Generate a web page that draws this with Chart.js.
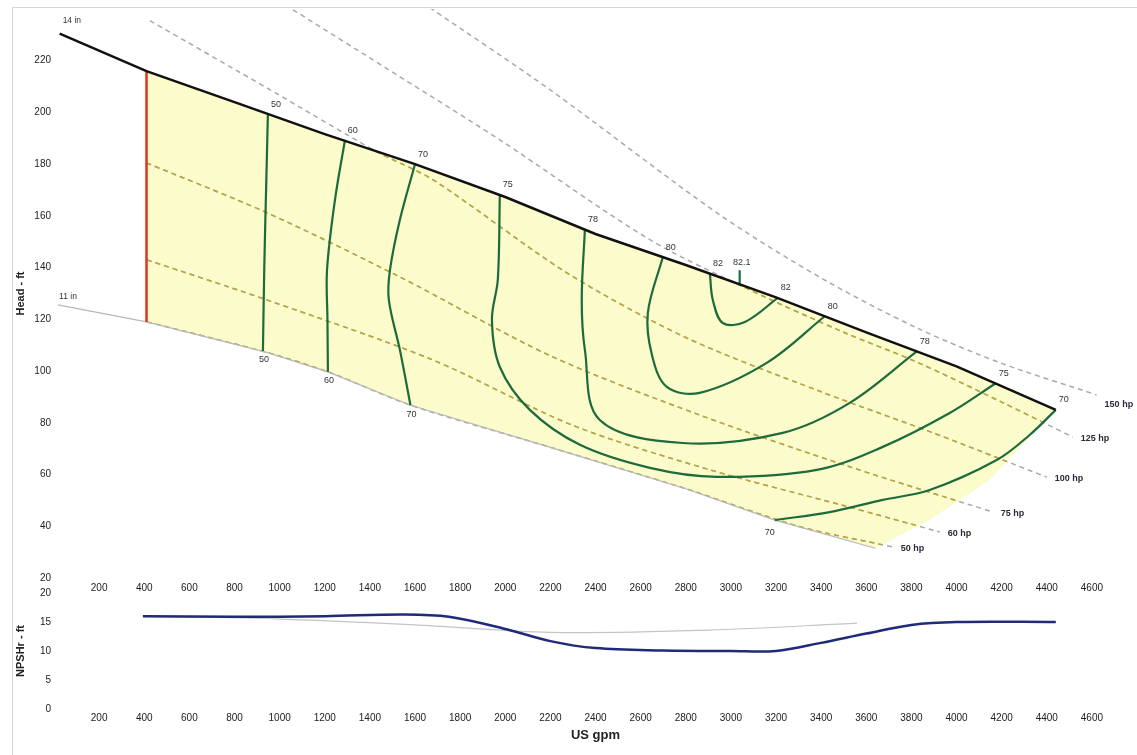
<!DOCTYPE html>
<html>
<head>
<meta charset="utf-8">
<script src="https://cdn.jsdelivr.net/npm/chart.js@4.4.1/dist/chart.umd.min.js"></script>
<style>
    html, body { margin: 0; padding: 0; background: #fff; }
    #wrap { position: relative; width: 1137px; height: 755px; overflow: hidden; }
    #frame { position: absolute; left: 12px; top: 7px; right: 0; bottom: 0; border-left: 1px solid #d6d6d6; border-top: 1px solid #d6d6d6; }
    #headChart { position: absolute; left: 0; top: 0; }
    #npshChart { position: absolute; left: 0; top: 583px; }
</style>
</head>
<body>
<div id="wrap">
    <div id="frame"></div>
    <canvas id="headChart" width="1137" height="600" style="width:1137px;height:600px"></canvas>
    <canvas id="npshChart" width="1137" height="172" style="width:1137px;height:172px"></canvas>
</div>
<script>
const FONT = "'Liberation Sans', Arial, sans-serif";

// axes
const xTicks = [200, 400, 600, 800, 1000, 1200, 1400, 1600, 1800, 2000, 2200, 2400,
    2600, 2800, 3000, 3200, 3400, 3600, 3800, 4000, 4200, 4400, 4600];
const headTicks = [20, 40, 60, 80, 100, 120, 140, 160, 180, 200, 220];
const npshTicks = [0, 5, 10, 15, 20];

// impeller curves (US gpm / ft)
const q14 = [25, 410, 800, 1200, 1600, 2000, 2400, 2800, 3200, 3600, 4000, 4440];
const h14 = [230.5, 216, 204, 191.6, 180, 167.3, 153, 141, 128.5, 115, 101.8, 85];
const q11 = [18, 410, 935, 1214, 1577, 2200, 2800, 3195, 3640];
const h11 = [125.6, 119, 107.4, 99.7, 86.9, 70.5, 54.5, 42.4, 31.5];
const qEdge = [4440, 4324, 4147, 3881, 3640];
const hEdge = [85, 74.5, 57.9, 42.4, 31.5];
const minFlow = 410;

// efficiency contours (%)
const eff50Q = [948, 940, 932, 926];
const eff50H = [199.3, 170, 140, 107.8];
const eff60Q = [1289, 1245, 1210, 1212, 1214];
const eff60H = [189, 166, 139, 120, 99.7];
const eff70LQ = [1600, 1533, 1489, 1484, 1533, 1580];
const eff70LH = [180, 158.5, 139, 127.5, 108.2, 86.8];
const eff75Q = [1976, 1967, 1941, 1976, 2109, 2331, 2641, 2938, 3381, 3673, 3970, 4174];
const eff75H = [168.1, 135.3, 119.8, 101.6, 85, 71.5, 62.6, 59.1, 61.8, 70.7, 83.8, 95.3];
const eff78Q = [2353, 2339, 2353, 2419, 2787, 3230, 3527, 3824];
const eff78H = [154.7, 127.5, 108.2, 81.1, 72.2, 76.1, 87.7, 107.6];
const eff80Q = [2698, 2632, 2650, 2716, 2862, 3159, 3416];
const eff80H = [144, 122.5, 106.3, 93.9, 91.6, 103.2, 121.2];
const eff82Q = [2907, 2920, 2964, 3062, 3208];
const eff82H = [137.7, 127.5, 118.6, 119, 128.3];
const eff821Q = [3039, 3039];
const eff821H = [139, 133.6];
const eff70RQ = [3195, 3438, 3673, 3881, 4178, 4324, 4440];
const eff70RH = [42.4, 45.5, 50.2, 54, 65.6, 75.3, 85];

// power lines (hp)
const hpText = ['150 hp', '125 hp', '100 hp', '75 hp', '60 hp', '50 hp'];
const hp150Q = [1666, 2198, 2938, 3400, 3824, 4200, 4621];
const hp150H = [240.5, 208.8, 161.2, 136, 116.7, 103, 90.8];
const hp125Q = [1059, 1533, 1976, 2641, 3084, 3500, 3824, 4200, 4515];
const hp125H = [239.7, 213.8, 189.4, 150.8, 131.4, 115, 103.5, 88, 74.5];
const hp100Q = [425, 957, 1431, 1679, 2273, 2800, 3400, 3900, 4400];
const hp100H = [235.5, 208.8, 184.8, 174, 138, 113, 92, 76, 59];
const hp75Q = [410, 944, 1533, 2198, 2862, 3527, 4161];
const hp75H = [180.5, 161.2, 136.4, 106, 83, 63, 45.5];
const hp60Q = [412, 944, 1679, 2300, 2900, 3500, 3926];
const hp60H = [143, 127.5, 104.3, 79, 62, 48, 37.8];
const hp50Q = [412, 935, 1214, 1577, 2200, 2800, 3300, 3717];
const hp50H = [119, 107.4, 99.7, 86.9, 70.5, 54.5, 40, 32];

// NPSHr (ft)
const npshQ = [394, 800, 1200, 1550, 1750, 2000, 2200, 2400, 2700, 3000, 3200, 3400, 3600, 3800, 4000, 4440];
const npshH = [16.0, 15.9, 16.0, 16.3, 15.9, 13.8, 11.7, 10.5, 10.1, 10.0, 10.0, 11.4, 13.0, 14.5, 15.0, 15.0];
const npshAltQ = [394, 1000, 1600, 2200, 2900, 3560];
const npshAltH = [16.0, 15.5, 14.5, 13.2, 13.6, 14.8];

function pts(q, h) {
    return q.map((x, i) => ({ x: x, y: h[i] }));
}
const first = (q, h, t, side) => [q[0], h[0], t, side];
const last = (q, h, t, side) => [q[q.length - 1], h[h.length - 1], t, side];

// operating region: 14 in curve, end of curve, 11 in curve back to min flow
const regionPts = [
    ...pts(q14, h14).filter(p => p.x >= minFlow),
    ...pts(qEdge, hEdge).slice(1),
    ...pts(q11, h11).filter(p => p.x >= minFlow).reverse().slice(1)
];

const contours = [
    [eff50Q, eff50H], [eff60Q, eff60H], [eff70LQ, eff70LH], [eff75Q, eff75H],
    [eff78Q, eff78H], [eff80Q, eff80H], [eff82Q, eff82H], [eff821Q, eff821H], [eff70RQ, eff70RH]
];
const hpLines = [[hp150Q, hp150H], [hp125Q, hp125H], [hp100Q, hp100H], [hp75Q, hp75H], [hp60Q, hp60H], [hp50Q, hp50H]];

const effLabels = [
    first(eff50Q, eff50H, '50', 'top'), first(eff60Q, eff60H, '60', 'top'),
    first(eff70LQ, eff70LH, '70', 'top'), first(eff75Q, eff75H, '75', 'top'),
    first(eff78Q, eff78H, '78', 'top'), first(eff80Q, eff80H, '80', 'top'),
    first(eff82Q, eff82H, '82', 'top'), first(eff821Q, eff821H, '82.1', 'tick'),
    last(eff82Q, eff82H, '82', 'top'), last(eff80Q, eff80H, '80', 'top'),
    last(eff78Q, eff78H, '78', 'top'), last(eff75Q, eff75H, '75', 'top'),
    last(eff70RQ, eff70RH, '70', 'top'),
    last(eff50Q, eff50H, '50', 'bottom'), last(eff60Q, eff60H, '60', 'bottom'),
    last(eff70LQ, eff70LH, '70', 'bottom'), first(eff70RQ, eff70RH, '70', 'bottomLeft')
];
const labelOffset = { top: [8, -10], tick: [2, -8], bottom: [1, 9], bottomLeft: [-5, 12] };
const hpLabelDy = [10, 1, 1, 1, 2, 2];

function regionPath(chart) {
    const { ctx, scales: { x, y } } = chart;
    ctx.beginPath();
    regionPts.forEach((p, i) => {
        const px = x.getPixelForValue(p.x), py = y.getPixelForValue(p.y);
        if (i === 0) ctx.moveTo(px, py); else ctx.lineTo(px, py);
    });
    ctx.closePath();
}

// power lines are drawn olive inside the region
const clipPlugin = {
    id: 'clipRegion',
    beforeDatasetDraw(chart, args) {
        if (!chart.data.datasets[args.index].clipRegion) return;
        chart.ctx.save();
        regionPath(chart);
        chart.ctx.clip();
    },
    afterDatasetDraw(chart, args) {
        if (chart.data.datasets[args.index].clipRegion) chart.ctx.restore();
    }
};

const labelPlugin = {
    id: 'curveLabels',
    afterDatasetsDraw(chart) {
        const { ctx, scales: { x, y } } = chart;
        ctx.save();
        ctx.textBaseline = 'middle';
        ctx.textAlign = 'center';
        ctx.fillStyle = '#333';
        ctx.font = '9px ' + FONT;
        effLabels.forEach(([q, h, t, side]) => {
            const o = labelOffset[side];
            ctx.fillText(t, x.getPixelForValue(q) + o[0], y.getPixelForValue(h) + o[1]);
        });
        ctx.textAlign = 'left';
        ctx.fillStyle = '#2a2a3a';
        ctx.font = 'bold 9px ' + FONT;
        hpLines.forEach(([q, h], i) => {
            const n = q.length - 1;
            ctx.fillText(hpText[i], x.getPixelForValue(q[n]) + 8, y.getPixelForValue(h[n]) + hpLabelDy[i]);
        });
        ctx.font = '8.5px ' + FONT;
        ctx.fillStyle = '#333';
        ctx.fillText('14 in', x.getPixelForValue(q14[0]) + 3, y.getPixelForValue(h14[0]) - 13);
        ctx.fillText('11 in', x.getPixelForValue(q11[0]) + 1, y.getPixelForValue(h11[0]) - 8);
        ctx.restore();
    }
};

const tickFont = { family: FONT, size: 10 };
const plainNum = v => String(v);
const noGrid = { display: false, drawTicks: false };

const datasets = [];
datasets.push({
    data: regionPts, fill: 'shape', backgroundColor: '#fbfbcb',
    borderWidth: 0, tension: 0, order: 100
});
hpLines.forEach(([q, h]) => {
    datasets.push({ data: pts(q, h), borderColor: '#a9a9a9', borderWidth: 1.5, borderDash: [5, 4], tension: 0.3, fill: false, order: 90 });
    datasets.push({ data: pts(q, h), borderColor: '#b9a838', borderWidth: 1.5, borderDash: [5, 4], tension: 0.3, fill: false, order: 80, clipRegion: true });
});
datasets.push({ data: pts(q11, h11), borderColor: '#b8b8b8', borderWidth: 1.2, tension: 0, fill: false, order: 70 });
datasets.push({ data: [{ x: minFlow, y: 119 }, { x: minFlow, y: 216 }], borderColor: '#e2311d', borderWidth: 2.5, fill: false, order: 60 });
contours.forEach(([q, h]) => {
    datasets.push({ data: pts(q, h), borderColor: '#1d6a3b', borderWidth: 2.2, tension: 0.35, fill: false, order: 50 });
});
datasets.push({ data: pts(q14, h14), borderColor: '#111', borderWidth: 2.5, tension: 0, fill: false, order: 40 });

new Chart(document.getElementById('headChart'), {
    type: 'line',
    data: { datasets: datasets },
    plugins: [clipPlugin, labelPlugin],
    options: {
        responsive: false,
        animation: false,
        layout: { padding: { top: 9, right: 0, left: 0, bottom: 0 } },
        elements: { point: { radius: 0 } },
        plugins: { legend: { display: false }, tooltip: { enabled: false } },
        scales: {
            x: {
                type: 'linear', min: 0, max: 4800,
                grid: noGrid, border: { display: false },
                afterBuildTicks: s => { s.ticks = xTicks.map(v => ({ value: v })); },
                afterFit: s => { s.height = 22; },
                ticks: { font: tickFont, color: '#222', padding: 4, maxRotation: 0, autoSkip: false, callback: plainNum }
            },
            y: {
                type: 'linear', min: 20, max: 240,
                grid: noGrid, border: { display: false },
                afterBuildTicks: s => { s.ticks = headTicks.map(v => ({ value: v })); },
                afterFit: s => { s.width = 54; },
                ticks: { font: tickFont, color: '#222', padding: 3, callback: plainNum },
                title: { display: true, text: 'Head - ft', color: '#222', font: { family: FONT, size: 11, weight: 'bold' }, padding: { top: 14, bottom: 0 } }
            }
        }
    }
});

new Chart(document.getElementById('npshChart'), {
    type: 'line',
    data: {
        datasets: [
            { data: pts(npshAltQ, npshAltH), borderColor: '#c4c4c4', borderWidth: 1.2, tension: 0.3, fill: false, order: 2 },
            { data: pts(npshQ, npshH), borderColor: '#1f2a78', borderWidth: 2.5, tension: 0.35, fill: false, order: 1 }
        ]
    },
    options: {
        responsive: false,
        animation: false,
        layout: { padding: { top: 10, right: 0, left: 0, bottom: 0 } },
        elements: { point: { radius: 0 } },
        plugins: { legend: { display: false }, tooltip: { enabled: false } },
        scales: {
            x: {
                type: 'linear', min: 0, max: 4800,
                grid: noGrid, border: { display: false },
                afterBuildTicks: s => { s.ticks = xTicks.map(v => ({ value: v })); },
                afterFit: s => { s.height = 46; },
                ticks: { font: tickFont, color: '#222', padding: 3, maxRotation: 0, autoSkip: false, callback: plainNum },
                title: { display: true, text: 'US gpm', color: '#222', font: { family: FONT, size: 13, weight: 'bold' }, padding: { top: 0, bottom: 12 } }
            },
            y: {
                type: 'linear', min: 0, max: 20,
                grid: noGrid, border: { display: false },
                afterBuildTicks: s => { s.ticks = npshTicks.map(v => ({ value: v })); },
                afterFit: s => { s.width = 54; },
                ticks: { font: tickFont, color: '#222', padding: 3, callback: plainNum },
                title: { display: true, text: 'NPSHr - ft', color: '#222', font: { family: FONT, size: 11, weight: 'bold' }, padding: { top: 14, bottom: 0 } }
            }
        }
    }
});
</script>
</body>
</html>
